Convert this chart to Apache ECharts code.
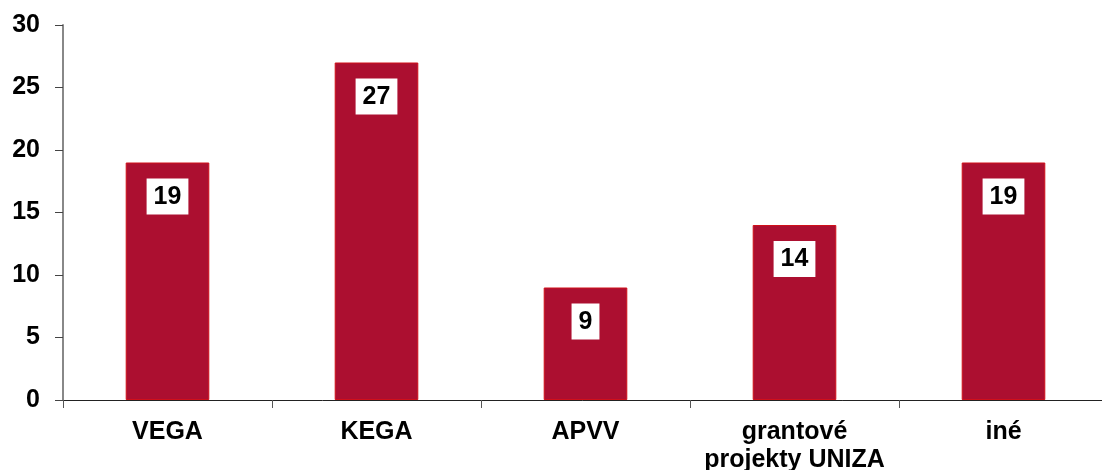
<!DOCTYPE html>
<html><head><meta charset="utf-8">
<script src="https://cdn.jsdelivr.net/npm/echarts@6/dist/echarts.min.js"></script>
<style>html,body{margin:0;padding:0;background:#fff;overflow:hidden}#c{width:1102px;height:470px}</style>
</head><body><div id="c"></div>
<script>
const categories = ['VEGA', 'KEGA', 'APVV', 'grantové\nprojekty UNIZA', 'iné'];
const values = [19, 27, 9, 14, 19];
const yTicks = [0, 5, 10, 15, 20, 25, 30];

const chart = echarts.init(document.getElementById('c'));
chart.setOption({
  animation: false,
  backgroundColor: '#fff',
  grid: { left: 63, right: -6, top: 25, bottom: 70, containLabel: false, outerBoundsMode: 'none' },
  xAxis: {
    type: 'category',
    data: categories,
    boundaryGap: true,
    axisLine: { lineStyle: { color: '#222', width: 1 } },
    axisTick: { show: true, length: 8, lineStyle: { color: '#555' } },
    axisLabel: {
      color: '#000', fontFamily: 'Liberation Sans, Arial', fontWeight: 'bold',
      fontSize: 25, margin: 18, lineHeight: 28, interval: 0
    },
    splitLine: { show: false }
  },
  yAxis: {
    type: 'value',
    min: yTicks[0], max: yTicks[yTicks.length - 1], interval: 5,
    axisLine: { show: true, lineStyle: { color: '#888', width: 2 } },
    axisTick: { show: true, length: 8, lineStyle: { color: '#444' } },
    axisLabel: {
      color: '#000', fontFamily: 'Liberation Sans, Arial', fontWeight: 'bold',
      fontSize: 25, margin: 23
    },
    splitLine: { show: false }
  },
  series: [{
    type: 'bar',
    data: values,
    barWidth: '40%',
    itemStyle: { color: '#AC0F30', borderColor: '#D0101A', borderWidth: 1 },
    label: {
      show: true, position: 'insideTop', distance: 16,
      backgroundColor: '#fff', padding: [6, 7, 5, 7],
      color: '#000', fontFamily: 'Liberation Sans, Arial', fontWeight: 'bold', fontSize: 25
    }
  }]
});
</script></body></html>
